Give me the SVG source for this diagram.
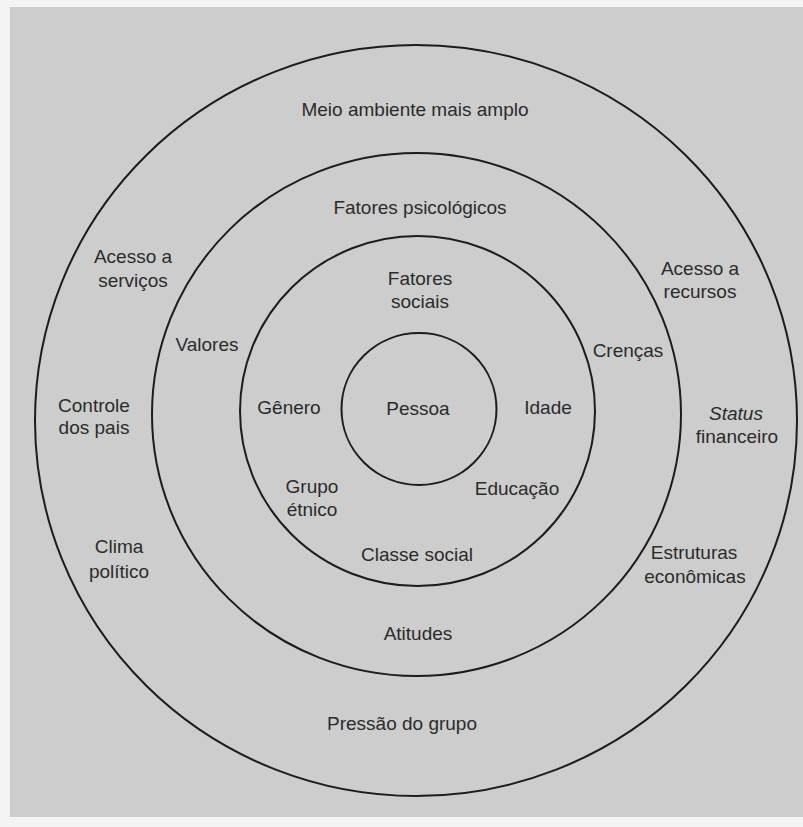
<svg xmlns="http://www.w3.org/2000/svg" width="803" height="827" viewBox="0 0 803 827">
<style>
.ring{fill:none;stroke:#1c1c1c;stroke-width:2}
text{font-family:"Liberation Sans",Arial,sans-serif;font-size:19px;fill:#2b2b2b;text-anchor:middle}
.it{font-style:italic}
</style>
<rect x="0" y="0" width="803" height="827" fill="#f4f4f4"/>
<rect x="10" y="7" width="793" height="810" fill="#cdcdcd"/>
<g id="rings">
<ellipse id="ring-outer" class="ring" cx="416" cy="420.5" rx="381" ry="375.5"/>
<ellipse id="ring-psych" class="ring" cx="416.5" cy="414.5" rx="264.5" ry="261.5"/>
<ellipse id="ring-social" class="ring" cx="417.5" cy="411" rx="177.5" ry="175"/>
<ellipse id="ring-person" class="ring" cx="419" cy="409" rx="77.5" ry="76"/>
</g>
<g id="outer-labels">
<text x="415" y="116">Meio ambiente mais amplo</text>
<text x="133" y="263">Acesso a</text>
<text x="133" y="287">serviços</text>
<text x="700" y="275">Acesso a</text>
<text x="700" y="298">recursos</text>
<text x="94" y="412">Controle</text>
<text x="94" y="434">dos pais</text>
<text x="736" y="420" class="it">Status</text>
<text x="737" y="443">financeiro</text>
<text x="119" y="553">Clima</text>
<text x="119" y="578">político</text>
<text x="694" y="559">Estruturas</text>
<text x="695" y="583">econômicas</text>
<text x="402" y="730">Pressão do grupo</text>
</g>
<g id="psych-labels">
<text x="420" y="214">Fatores psicológicos</text>
<text x="207" y="351">Valores</text>
<text x="628" y="357">Crenças</text>
<text x="418" y="640">Atitudes</text>
</g>
<g id="social-labels">
<text x="420" y="285">Fatores</text>
<text x="420" y="308">sociais</text>
<text x="289" y="414">Gênero</text>
<text x="548" y="414">Idade</text>
<text x="312" y="493">Grupo</text>
<text x="312" y="516">étnico</text>
<text x="517" y="495">Educação</text>
<text x="417" y="561">Classe social</text>
</g>
<g id="person">
<text x="418" y="415">Pessoa</text>
</g>
</svg>
